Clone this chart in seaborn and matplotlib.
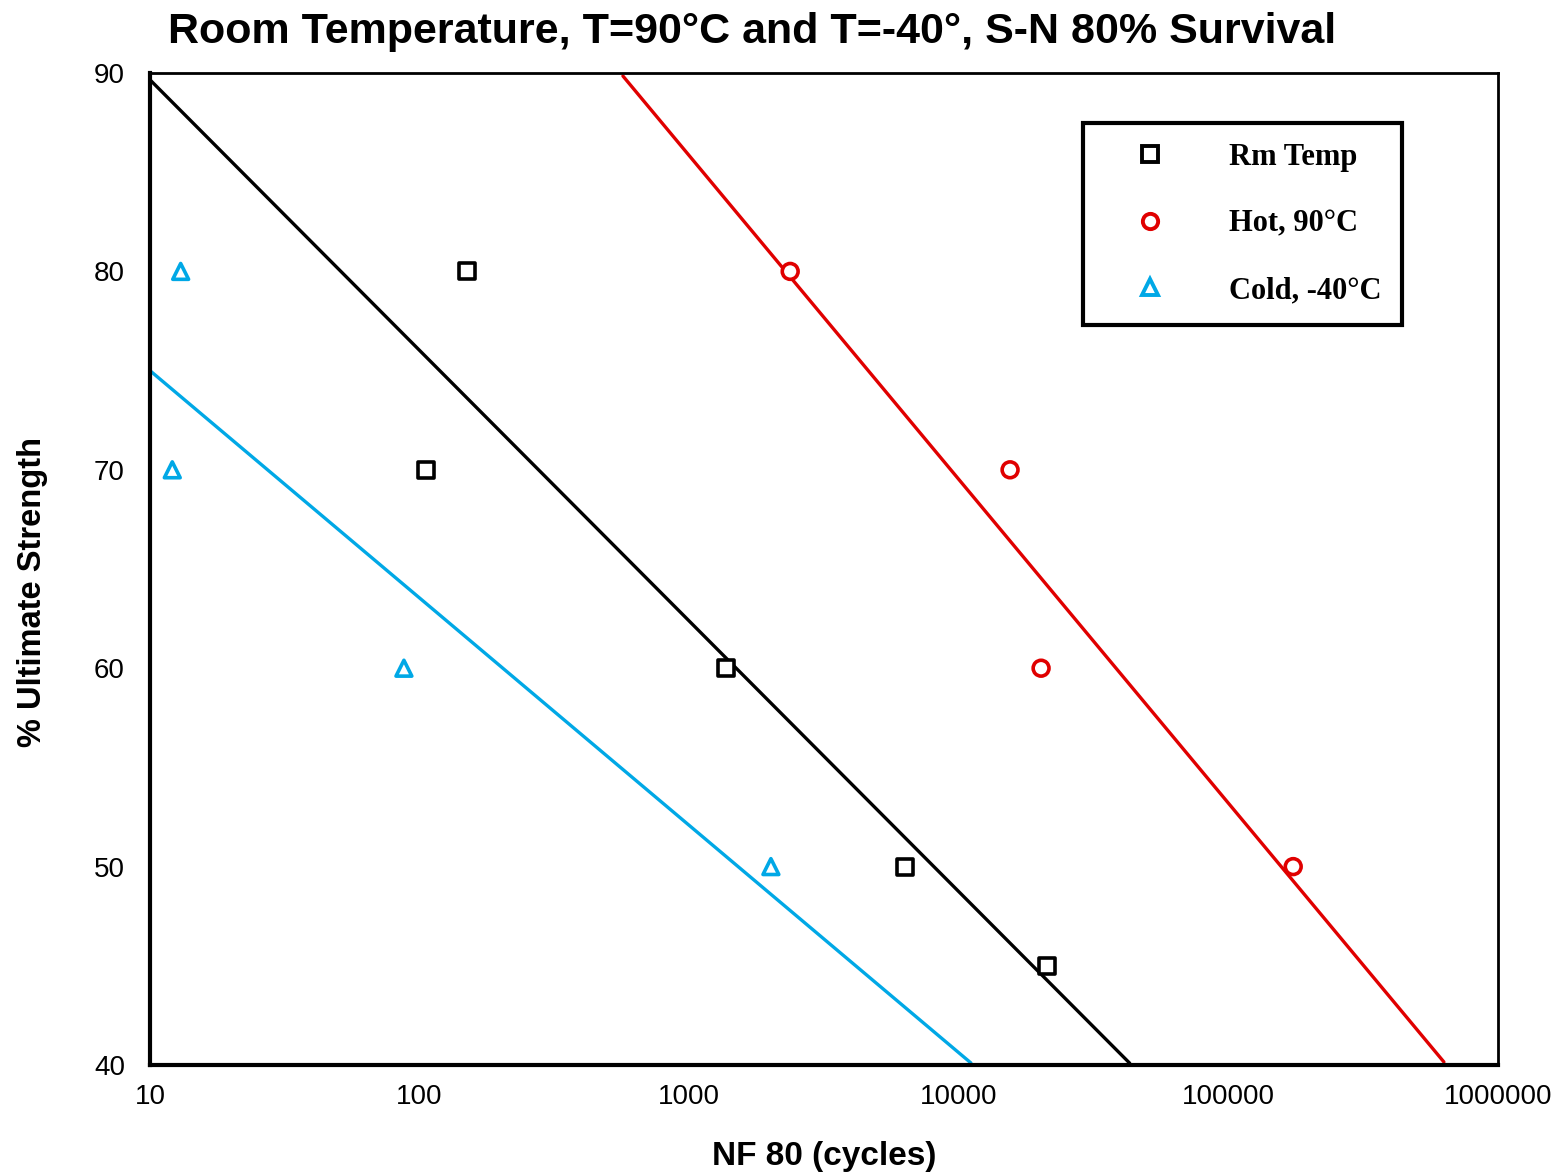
import numpy as np
import pandas as pd
import matplotlib
matplotlib.use("Agg")
import matplotlib.pyplot as plt
import seaborn as sns
from matplotlib.lines import Line2D

# Test data: cycles to failure (80% survival) at each stress level
rm_cycles = [150, 106, 1370, 6300, 21200]
rm_stress = [80, 70, 60, 50, 45]

hot_cycles = [2370, 15500, 20200, 174000]
hot_stress = [80, 70, 60, 50]

cold_cycles = [13.0, 12.1, 87.5, 2010]
cold_stress = [80, 70, 60, 50]

# S-N curves: stress = intercept + slope * log10(N)
series_names = ["Rm Temp", "Hot, 90°C", "Cold, -40°C"]
curve_intercepts = [103.3, 134.8, 86.46]
curve_slopes = [-13.64, -16.32, -11.46]

colors = {"Rm Temp": "#000000", "Hot, 90°C": "#E00000", "Cold, -40°C": "#00A8E6"}
markers = {"Rm Temp": "s", "Hot, 90°C": "o", "Cold, -40°C": "^"}

points = pd.concat([
    pd.DataFrame({"cycles": rm_cycles, "stress": rm_stress, "series": "Rm Temp"}),
    pd.DataFrame({"cycles": hot_cycles, "stress": hot_stress, "series": "Hot, 90°C"}),
    pd.DataFrame({"cycles": cold_cycles, "stress": cold_stress, "series": "Cold, -40°C"}),
], ignore_index=True)

logn = np.linspace(1, 6, 400)
curves = pd.concat([
    pd.DataFrame({"cycles": 10 ** logn, "stress": a + b * logn, "series": name})
    for name, a, b in zip(series_names, curve_intercepts, curve_slopes)
], ignore_index=True)
curves = curves[(curves.stress >= 40) & (curves.stress <= 90)]

sns.set_theme(style="white")
plt.rcParams["font.family"] = ["Liberation Sans", "DejaVu Sans"]
plt.rcParams["text.color"] = "black"
plt.rcParams["axes.labelcolor"] = "black"

fig = plt.figure(figsize=(15.62, 11.72), dpi=100)
ax = fig.add_axes([0.096, 0.0913, 0.863, 0.8464])

sns.lineplot(data=curves, x="cycles", y="stress", hue="series", palette=colors,
             hue_order=series_names, linewidth=2.4, legend=False, ax=ax,
             sort=False, estimator=None)
sns.scatterplot(data=points, x="cycles", y="stress", hue="series", style="series",
                palette=colors, markers=markers, hue_order=series_names,
                style_order=series_names, s=130, linewidth=2.6,
                legend=False, ax=ax, zorder=5)
# hollow markers: edge in series colour, white face
for coll in ax.collections:
    fc = coll.get_facecolors()
    coll.set_edgecolors(fc)
    coll.set_facecolors("white")

ax.set_xscale("log")
ax.set_xlim(10, 1e6)
ax.set_ylim(40, 90)
ax.set_xticks([10, 100, 1000, 10000, 100000, 1000000])
ax.set_xticklabels(["10", "100", "1000", "10000", "100000", "1000000"])
ax.xaxis.set_minor_locator(matplotlib.ticker.NullLocator())
ax.set_yticks([40, 50, 60, 70, 80, 90])
ax.tick_params(axis="both", which="major", direction="in", length=9, width=2,
               labelsize=20, colors="black")
ax.tick_params(axis="y", pad=18)
ax.tick_params(axis="x", pad=14)

for side, lw in [("left", 3), ("bottom", 3), ("top", 2), ("right", 2)]:
    ax.spines[side].set_visible(True)
    ax.spines[side].set_color("black")
    ax.spines[side].set_linewidth(lw)

ax.set_xlabel("NF 80 (cycles)", fontsize=24, fontweight="bold", labelpad=22)
ax.set_ylabel("% Ultimate Strength", fontsize=23.5, fontweight="bold")
ax.yaxis.set_label_coords(-0.0756, 0.477)
fig.suptitle("Room Temperature, T=90°C and T=-40°, S-N 80% Survival",
             fontsize=31, fontweight="bold", x=0.4815, y=0.990)

handles = [Line2D([], [], linestyle="none", marker=markers[n], markersize=11,
                  markerfacecolor="white", markeredgecolor=colors[n],
                  markeredgewidth=2.8, label=n) for n in series_names]
leg = ax.legend(handles=handles, loc="upper left", bbox_to_anchor=(0.692, 0.9496),
                borderaxespad=0, frameon=True, fancybox=False, framealpha=1,
                handlelength=3.1, handletextpad=1.05, labelspacing=1.23,
                borderpad=0.65,
                prop={"family": "Liberation Serif", "weight": "bold", "size": 22})
leg.get_frame().set_edgecolor("black")
leg.get_frame().set_linewidth(3)

fig.savefig("out.png", dpi=100, facecolor="white")
